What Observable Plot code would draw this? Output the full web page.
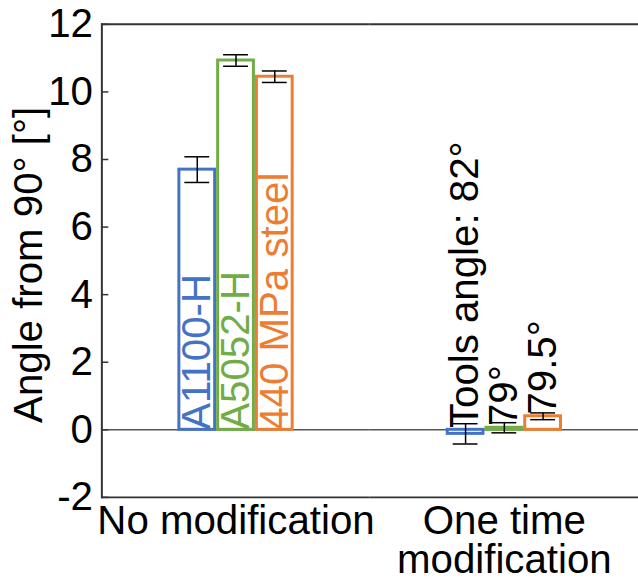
<!DOCTYPE html>
<html>
<head>
<meta charset="utf-8">
<script src="https://cdn.jsdelivr.net/npm/d3@7"></script>
<script src="https://cdn.jsdelivr.net/npm/@observablehq/plot@0.6"></script>
<style>
  html, body { margin: 0; padding: 0; background: white; overflow: hidden; }
  #chart svg { display: block; }
</style>
</head>
<body>
<div id="chart"></div>
<script>
const groups = ["No modification", "One time modification"];
const materials = ["A1100-H", "A5052-H", "440 MPa steel"];
const colors = ["#4472C4", "#70AD47", "#ED7D31"];
const meanNoMod = [7.7, 10.93, 10.45];
const errNoMod = [0.38, 0.17, 0.17];
const meanOneTime = [-0.12, 0.06, 0.4];
const errOneTime = [0.3, 0.15, 0.1];
const labelsNoMod = ["A1100-H", "A5052-H", "440 MPa steel"];
const labelsOneTime = ["Tools angle: 82°", "79°", "79.5°"];
const yTicks = [-2, 0, 2, 4, 6, 8, 10, 12];
const yLabel = "Angle from 90° [°]";

const rows = [];
materials.forEach((m, i) => rows.push({group: groups[0], material: m, value: meanNoMod[i], err: errNoMod[i], label: labelsNoMod[i]}));
materials.forEach((m, i) => rows.push({group: groups[1], material: m, value: meanOneTime[i], err: errOneTime[i], label: labelsOneTime[i]}));
const g1 = rows.filter(d => d.group === groups[0]);
const g2 = rows.filter(d => d.group === groups[1]);

const font = "'Liberation Sans', Arial, sans-serif";
const fs = 40.5;

const chart = Plot.plot({
  width: 642,
  height: 581,
  marginLeft: 102,
  marginRight: 0,
  marginTop: 24,
  marginBottom: 81,
  style: {fontFamily: font, fontSize: fs + "px", background: "white", color: "black"},
  fx: {domain: groups, padding: 0, label: null},
  x: {domain: materials, paddingInner: 0.077, paddingOuter: 2.0, axis: null},
  y: {domain: [-2, 12], label: null},
  color: {domain: materials, range: colors},
  marks: [
    Plot.ruleY([0], {stroke: "#555", strokeWidth: 1.5}),
    Plot.barY(rows, {fx: "group", x: "material", y: "value", fill: "white", stroke: "material", strokeWidth: 3}),
    Plot.ruleX(rows, {fx: "group", x: "material", y1: d => d.value - d.err, y2: d => d.value + d.err, stroke: "black", strokeWidth: 1.5}),
    Plot.tickY(rows, {fx: "group", x: "material", y: d => d.value - d.err, stroke: "black", strokeWidth: 1.5, insetLeft: 5.5, insetRight: 5.5}),
    Plot.tickY(rows, {fx: "group", x: "material", y: d => d.value + d.err, stroke: "black", strokeWidth: 1.5, insetLeft: 5.5, insetRight: 5.5}),
    Plot.text(g1, {fx: "group", x: "material", y: () => 0, text: "label", fill: "material", rotate: -90, textAnchor: "start", lineAnchor: "middle", fontSize: fs}),
    Plot.text(g2, {fx: "group", x: "material", y: d => Math.max(d.value, 0) + 0.05, text: "label", fill: "black", rotate: -90, textAnchor: "start", lineAnchor: "middle", fontSize: fs}),
    Plot.ruleY([-2, 12], {stroke: "#333", strokeWidth: 2}),
    Plot.frame({anchor: "left", facetAnchor: "left", stroke: "#333", strokeWidth: 2}),
    Plot.axisY({ticks: yTicks, tickFormat: d => String(d), tickSize: -7, tickPadding: 16, fontSize: fs, stroke: "#333", strokeWidth: 1.5, label: null}),
    Plot.text([yLabel], {text: d => d, frameAnchor: "left", facetAnchor: "left", rotate: -90, dx: -73, dy: 4, textAnchor: "middle", lineAnchor: "middle", fontSize: fs, fill: "black"}),
    Plot.axisFx({anchor: "bottom", tickSize: 0, tickPadding: 10, fontSize: fs, lineHeight: 0.95, label: null,
      tickFormat: d => d === "One time modification" ? "One time\nmodification" : d})
  ]
});
document.getElementById("chart").appendChild(chart);
</script>
</body>
</html>
